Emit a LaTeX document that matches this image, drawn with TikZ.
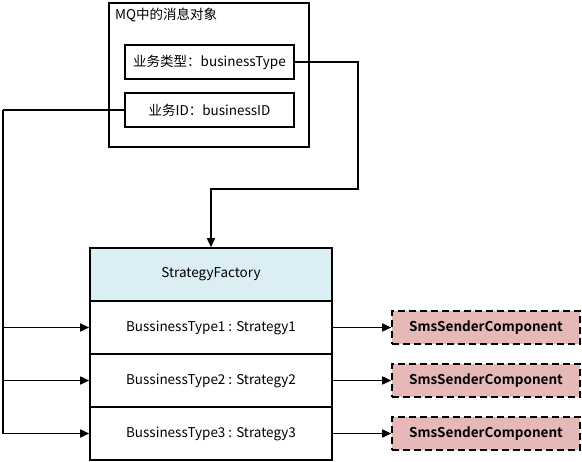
\documentclass[tikz,border=0pt]{standalone}
\usepackage{fontspec}
\setmainfont{Noto Sans CJK SC}[BoldFont={Noto Sans CJK SC Bold}]
\usepackage{xcolor}
\usepackage{tikz}
\usetikzlibrary{arrows.meta,positioning,calc}

\definecolor{headblue}{HTML}{DAEEF3}
\definecolor{smspink}{HTML}{E6B9B8}

\tikzset{
    field/.style={rectangle,draw,line width=1.6pt,minimum width=169pt,minimum height=34pt,inner sep=0pt,font=\fontsize{13.5}{15}\selectfont},
    row/.style={rectangle,draw,line width=1.6pt,minimum width=242pt,minimum height=53pt,inner sep=0pt,font=\fontsize{13.5}{15}\selectfont},
    sms/.style={rectangle,draw,dashed,dash pattern=on 7pt off 4pt,line width=1.6pt,fill=smspink,minimum width=188pt,minimum height=33pt,inner sep=0pt,font=\bfseries\fontsize{13.5}{15}\selectfont},
    link/.style={line width=1.6pt,-{Triangle[length=9pt,width=8pt]}}
}

\begin{document}
\begin{tikzpicture}[x=1pt,y=-1pt]
    \useasboundingbox (0,0) rectangle (582,462);

    % MQ message object
    \node[rectangle,draw,line width=1.6pt,minimum width=200pt,minimum height=144pt] (msg) at (209,75) {};
    \node[anchor=west,inner sep=0pt,font=\fontsize{13.5}{15}\selectfont] (msgtitle) at (115,15) {MQ中的消息对象};
    \node[field] (type) at (209.5,62) {业务类型：businessType};
    \node[field] (bid) at (209.5,110) {业务ID：businessID};

    % Strategy factory
    \node[row,fill=headblue] (factory) at (211,274.5) {StrategyFactory};
    \node[row] (s1) at (211,327.5) {BussinessType1 : Strategy1};
    \node[row] (s2) at (211,380.5) {BussinessType2 : Strategy2};
    \node[row] (s3) at (211,433.5) {BussinessType3 : Strategy3};

    % Senders
    \node[sms] (c1) at (486,327.5) {SmsSenderComponent};
    \node[sms] (c2) at (486,380.5) {SmsSenderComponent};
    \node[sms] (c3) at (486,433.5) {SmsSenderComponent};

    % businessType to factory
    \coordinate (turn) at (358,189);
    \draw[link] (type.east) -| (turn) -| (factory.north);

    % businessID to each row
    \coordinate (rail) at (3,110);
    \draw[line width=1.6pt] (bid.west) -- (rail);
    \draw[link] (rail) |- (s3.west);
    \draw[link] (rail |- s1.west) -- (s1.west);
    \draw[link] (rail |- s2.west) -- (s2.west);

    % rows to senders
    \draw[link] (s1.east) -- (c1.west);
    \draw[link] (s2.east) -- (c2.west);
    \draw[link] (s3.east) -- (c3.west);
\end{tikzpicture}
\end{document}
